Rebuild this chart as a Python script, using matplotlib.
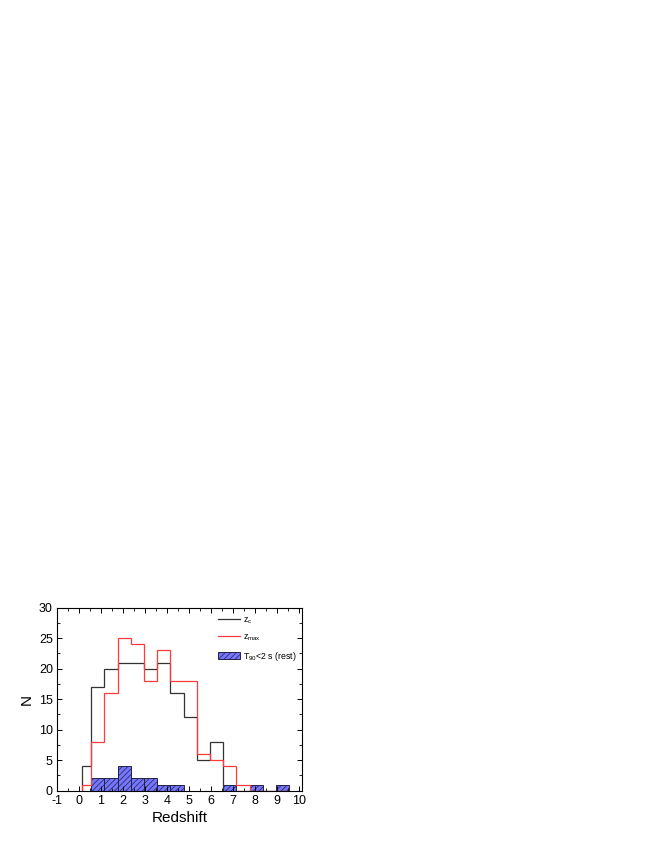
import numpy as np
import matplotlib
matplotlib.use("Agg")
import matplotlib.pyplot as plt
from matplotlib.ticker import MultipleLocator

plt.rcParams['font.family'] = ['Liberation Sans', 'DejaVu Sans']
plt.rcParams['mathtext.fontset'] = 'custom'
plt.rcParams['mathtext.rm'] = 'Liberation Sans'
plt.rcParams['mathtext.it'] = 'Liberation Sans'
plt.rcParams['axes.unicode_minus'] = False
plt.rcParams['hatch.color'] = '#20208a'
plt.rcParams['hatch.linewidth'] = 0.5

# bin edges (width 0.6)
edges = [0.12, 0.56, 1.16, 1.76, 2.36, 2.96, 3.56, 4.16, 4.76, 5.36,
         5.96, 6.56, 7.16, 7.76, 8.36, 8.96, 9.56]
z_c = [4, 17, 20, 21, 21, 20, 21, 16, 12, 5, 8, 0, 0, 0, 0, 0]
z_max = [1, 8, 16, 25, 24, 18, 23, 18, 18, 6, 5, 4, 1, 0, 0, 0]
short = [0, 2, 2, 4, 2, 2, 1, 1, 0, 0, 0, 1, 0, 1, 0, 1]

fig = plt.figure(figsize=(6.54, 8.46), dpi=100)
ax = fig.add_axes([0.0872, 0.0654, 0.3746, 0.2163])

e = np.array(edges)
s = np.array(short)
mask = s > 0
ax.bar(e[:-1][mask], s[mask], width=np.diff(e)[mask], align='edge',
       facecolor='#7575ff', edgecolor='#222244', linewidth=0.7,
       hatch='//////', label=r'T$_{90}$<2 s (rest)', zorder=1)

ax.stairs(z_c, edges, color='#333333', linewidth=0.9, label=r'z$_{\rm c}$', zorder=2)
ax.stairs(z_max, edges, color='#ff3b3b', linewidth=0.9, label=r'z$_{\rm max}$', zorder=2)

ax.set_xlim(-1, 10.15)
ax.set_ylim(0, 30)
ax.xaxis.set_major_locator(MultipleLocator(1))
ax.xaxis.set_minor_locator(MultipleLocator(0.5))
ax.yaxis.set_major_locator(MultipleLocator(5))
ax.yaxis.set_minor_locator(MultipleLocator(2.5))
ax.tick_params(which='both', direction='in', top=True, right=True, labelsize=9)
ax.tick_params(which='major', length=3.5, width=0.7, pad=3)
ax.tick_params(which='minor', length=2, width=0.6)
for sp in ax.spines.values():
    sp.set_linewidth(0.8)

ax.set_xlabel('Redshift', fontsize=11, labelpad=3)
ax.set_ylabel('N', fontsize=11, labelpad=4)

handles, labels = ax.get_legend_handles_labels()
order = [labels.index(r'z$_{\rm c}$'), labels.index(r'z$_{\rm max}$'),
         labels.index(r'T$_{90}$<2 s (rest)')]
ax.legend([handles[i] for i in order], [labels[i] for i in order],
          loc='upper left', frameon=False, fontsize=6.3,
          handlelength=2.5, handleheight=0.9, handletextpad=0.35,
          labelspacing=0.75, borderaxespad=0.2,
          bbox_to_anchor=(0.637, 0.985))

fig.savefig('out.png', dpi=100)
